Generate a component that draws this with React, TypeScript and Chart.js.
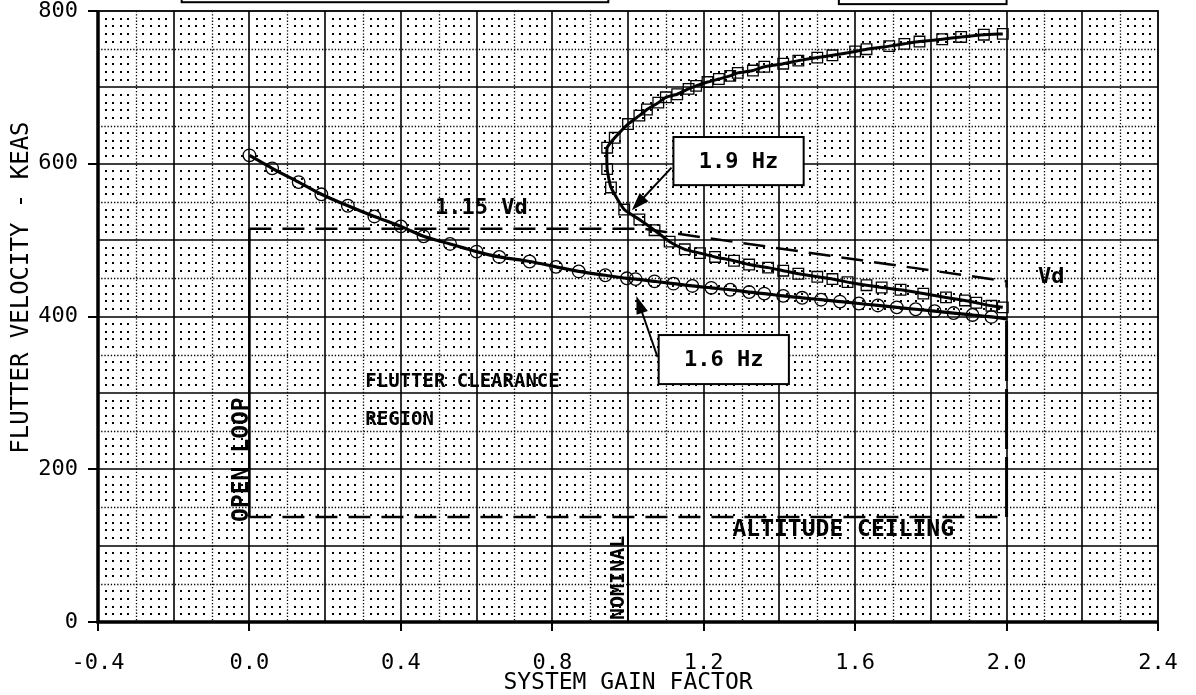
import React, { useEffect, useRef } from 'react';
import { Chart, registerables } from 'chart.js';

Chart.register(...registerables);

const FONT = "'DejaVu Sans Mono', 'Liberation Mono', monospace";

// ---- data ----
const X_TICKS = [-0.4, 0.0, 0.4, 0.8, 1.2, 1.6, 2.0, 2.4];
const Y_TICKS = [0, 200, 400, 600, 800];

// 1.6 Hz mode (circles)
const HZ16_X = [0, 0.06, 0.13, 0.19, 0.26, 0.33, 0.40, 0.46, 0.53, 0.60, 0.66, 0.74, 0.81, 0.87, 0.94, 0.997, 1.02, 1.07, 1.12, 1.17, 1.22, 1.27, 1.32, 1.36, 1.41, 1.46, 1.51, 1.56, 1.61, 1.66, 1.71, 1.76, 1.81, 1.86, 1.91, 1.96, 2.0];
const HZ16_Y = [611, 594, 576, 560, 545, 531, 518, 505, 495, 485, 478, 472, 465, 459, 454, 450, 449, 446, 443, 440, 437.5, 435, 432, 430, 427, 424.5, 422, 419.5, 417, 414.5, 412, 409.5, 407, 404.5, 402, 399.5, 397];

// 1.9 Hz mode (squares)
const HZ19_X = [1.99, 1.96, 1.92, 1.89, 1.84, 1.78, 1.72, 1.67, 1.63, 1.58, 1.54, 1.50, 1.45, 1.41, 1.37, 1.32, 1.28, 1.23, 1.19, 1.15, 1.11, 1.07, 1.03, 0.99, 0.955, 0.945, 0.945, 0.965, 1.00, 1.03, 1.05, 1.08, 1.10, 1.13, 1.16, 1.18, 1.21, 1.24, 1.27, 1.29, 1.33, 1.36, 1.41, 1.45, 1.50, 1.54, 1.60, 1.63, 1.69, 1.73, 1.77, 1.83, 1.88, 1.94, 1.99];
const HZ19_Y = [412, 414, 418, 421, 425, 430, 435, 438, 441, 445, 449, 452, 456, 460, 464, 468, 473, 478, 483, 488, 498, 513, 527, 540, 569, 593, 621, 634, 652, 663, 671, 680, 687, 691, 698, 702, 707, 711, 715, 719, 722, 727, 731, 735, 739, 742, 747, 750, 754, 757, 760, 763, 766, 769, 770];

// 1.15 Vd / Vd boundary
const VD_X = [0, 1.04, 2.0, 2.0];
const VD_Y = [515, 515, 446, 438];
// altitude ceiling
const CEIL_X = [0, 2.0];
const CEIL_Y = [137.5, 137.5];
// open loop boundary
const OPEN_X = [0, 0];
const OPEN_Y = [137.5, 515];
// nominal gain marker
const NOM_X = [1.0, 1.0];
const NOM_Y = [0, 137.5];
// max gain boundary
const MAXG_X = [2.0, 2.0];
const MAXG_Y = [137.5, 397];

const zip = (xs: number[], ys: number[]) => xs.map((x, i) => ({ x, y: ys[i] }));

// ---- annotations (data coordinates) ----
const TEXTS = [
  { text: '1.15 Vd', x: 0.49, y: 542, size: 22, rot: false },
  { text: 'Vd', x: 2.083, y: 451, size: 22, rot: false },
  { text: 'FLUTTER CLEARANCE', x: 0.306, y: 314, size: 19, rot: false },
  { text: 'REGION', x: 0.306, y: 264, size: 19, rot: false },
  { text: 'ALTITUDE CEILING', x: 1.276, y: 120, size: 23, rot: false },
  { text: 'NOMINAL', x: 0.975, y: 2.6, size: 20, rot: true },
  { text: 'OPEN LOOP', x: -0.02, y: 131, size: 23, rot: true },
];
const BOXES = [
  { text: '1.9 Hz', x0: 1.12, x1: 1.464, y0: 572, y1: 635, ax0: 1.115, ay0: 595, ax1: 1.01, ay1: 539 },
  { text: '1.6 Hz', x0: 1.081, x1: 1.425, y0: 311.5, y1: 375.7, ax0: 1.078, ay0: 347, ax1: 1.022, ay1: 427 },
];
const CUT_BOXES = [
  { x0: -0.179, x1: 0.948, y0: 811.5, y1: 860 },
  { x0: 1.557, x1: 2.0, y0: 809, y1: 860 },
];

const gridPlugin = {
  id: 'paperGrid',
  beforeDatasetsDraw(chart: any) {
    const { ctx, chartArea: a, scales } = chart;
    const xs = scales.x, ys = scales.y;
    ctx.save();
    ctx.fillStyle = '#000';
    // dots
    for (let i = 0; i <= 140; i++) {
      if (i % 5 === 0) continue;
      const px = xs.getPixelForValue(-0.4 + i * 0.02);
      for (let j = 0; j <= 80; j++) {
        if (j % 5 === 0) continue;
        const py = ys.getPixelForValue(j * 10);
        ctx.fillRect(Math.round(px) - 1, Math.round(py) - 1, 2, 2);
      }
    }
    // dotted half lines
    ctx.strokeStyle = '#000';
    ctx.lineWidth = 1.3;
    ctx.setLineDash([1.3, 1.9]);
    ctx.beginPath();
    for (let i = 1; i < 28; i += 2) {
      const px = Math.round(xs.getPixelForValue(-0.4 + i * 0.1)) + 0.5;
      ctx.moveTo(px, a.top);
      ctx.lineTo(px, a.bottom);
    }
    for (let j = 1; j < 16; j += 2) {
      const py = Math.round(ys.getPixelForValue(j * 50)) + 0.5;
      ctx.moveTo(a.left, py);
      ctx.lineTo(a.right, py);
    }
    ctx.stroke();
    // major lines
    ctx.setLineDash([]);
    ctx.lineWidth = 1.6;
    ctx.beginPath();
    for (let i = 1; i < 14; i++) {
      const px = Math.round(xs.getPixelForValue(-0.4 + i * 0.2));
      ctx.moveTo(px, a.top);
      ctx.lineTo(px, a.bottom);
    }
    for (let j = 1; j < 8; j++) {
      const py = Math.round(ys.getPixelForValue(j * 100));
      ctx.moveTo(a.left, py);
      ctx.lineTo(a.right, py);
    }
    ctx.stroke();
    // frame
    ctx.lineWidth = 1.8;
    ctx.strokeRect(a.left, a.top, a.right - a.left, a.bottom - a.top);
    ctx.lineWidth = 3.5;
    ctx.beginPath();
    ctx.moveTo(a.left, a.top);
    ctx.lineTo(a.left, a.bottom);
    ctx.lineTo(a.right, a.bottom);
    ctx.stroke();
    ctx.restore();
  },
};

function arrow(ctx: CanvasRenderingContext2D, x0: number, y0: number, x1: number, y1: number) {
  const ang = Math.atan2(y1 - y0, x1 - x0);
  const L = 18, W = 6;
  ctx.beginPath();
  ctx.moveTo(x0, y0);
  ctx.lineTo(x1 - Math.cos(ang) * L * 0.8, y1 - Math.sin(ang) * L * 0.8);
  ctx.stroke();
  ctx.beginPath();
  ctx.moveTo(x1, y1);
  ctx.lineTo(x1 - Math.cos(ang) * L - Math.sin(ang) * W, y1 - Math.sin(ang) * L + Math.cos(ang) * W);
  ctx.lineTo(x1 - Math.cos(ang) * L + Math.sin(ang) * W, y1 - Math.sin(ang) * L - Math.cos(ang) * W);
  ctx.closePath();
  ctx.fill();
}

const annotationPlugin = {
  id: 'notes',
  afterDatasetsDraw(chart: any) {
    const { ctx, scales } = chart;
    const xs = scales.x, ys = scales.y;
    ctx.save();
    ctx.fillStyle = '#000';
    ctx.strokeStyle = '#000';
    for (const t of TEXTS) {
      ctx.font = `bold ${t.size}px ${FONT}`;
      ctx.textBaseline = 'middle';
      ctx.textAlign = 'left';
      const px = xs.getPixelForValue(t.x), py = ys.getPixelForValue(t.y);
      if (t.rot) {
        ctx.save();
        ctx.translate(px, py);
        ctx.rotate(-Math.PI / 2);
        ctx.fillText(t.text, 0, 0);
        ctx.restore();
      } else {
        ctx.fillText(t.text, px, py);
      }
    }
    for (const b of BOXES) {
      const l = xs.getPixelForValue(b.x0), r = xs.getPixelForValue(b.x1);
      const tp = ys.getPixelForValue(b.y1), bt = ys.getPixelForValue(b.y0);
      ctx.lineWidth = 2;
      ctx.fillStyle = '#fff';
      ctx.fillRect(l, tp, r - l, bt - tp);
      ctx.strokeRect(l, tp, r - l, bt - tp);
      ctx.fillStyle = '#000';
      ctx.font = `bold 22px ${FONT}`;
      ctx.textAlign = 'center';
      ctx.textBaseline = 'middle';
      ctx.fillText(b.text, (l + r) / 2, (tp + bt) / 2 + 1);
      ctx.lineWidth = 2;
      arrow(ctx, xs.getPixelForValue(b.ax0), ys.getPixelForValue(b.ay0), xs.getPixelForValue(b.ax1), ys.getPixelForValue(b.ay1));
    }
    ctx.lineWidth = 2;
    for (const b of CUT_BOXES) {
      const l = xs.getPixelForValue(b.x0), r = xs.getPixelForValue(b.x1);
      const tp = ys.getPixelForValue(b.y1), bt = ys.getPixelForValue(b.y0);
      ctx.strokeRect(l, tp, r - l, bt - tp);
    }
    ctx.restore();
  },
};

export default function App() {
  const ref = useRef<HTMLCanvasElement | null>(null);
  useEffect(() => {
    if (!ref.current) return;
    const line = (xs: number[], ys: number[], extra: any) => ({
      data: zip(xs, ys),
      showLine: true,
      borderColor: '#000',
      backgroundColor: '#000',
      pointRadius: 0,
      fill: false,
      ...extra,
    });
    const chart = new Chart(ref.current, {
      type: 'scatter',
      data: {
        datasets: [
          line(VD_X, VD_Y, { borderWidth: 2.5, borderDash: [22, 11] }),
          line(CEIL_X, CEIL_Y, { borderWidth: 2.5, borderDash: [22, 11] }),
          line(OPEN_X, OPEN_Y, { borderWidth: 2.5 }),
          line(NOM_X, NOM_Y, { borderWidth: 2 }),
          line(MAXG_X, MAXG_Y, { borderWidth: 3, borderDash: [60, 8] }),
          line(HZ16_X, HZ16_Y, {
            borderWidth: 3.2,
            cubicInterpolationMode: 'monotone',
            pointStyle: 'circle',
            pointRadius: (c: any) => (c.dataIndex === HZ16_X.length - 1 ? 0 : 6.3),
            pointBorderWidth: 1.3,
            pointBorderColor: '#000',
            pointBackgroundColor: 'rgba(0,0,0,0)',
          }),
          line(HZ19_X, HZ19_Y, {
            borderWidth: 3,
            tension: 0.15,
            pointStyle: 'rect',
            pointRadius: 7.5,
            pointBorderWidth: 1.3,
            pointBorderColor: '#000',
            pointBackgroundColor: 'rgba(0,0,0,0)',
          }),
        ],
      },
      options: {
        responsive: false,
        animation: false,
        devicePixelRatio: 1,
        layout: { padding: { top: 11, right: 38, left: 0, bottom: 0 } },
        plugins: { legend: { display: false }, tooltip: { enabled: false } },
        scales: {
          x: {
            type: 'linear',
            min: -0.4,
            max: 2.4,
            afterBuildTicks: (s: any) => { s.ticks = X_TICKS.map((v) => ({ value: v })); },
            afterFit: (s: any) => { s.height = 73; s.paddingLeft = 0; s.paddingRight = 0; },
            border: { display: false },
            grid: { drawOnChartArea: false, drawTicks: true, tickLength: 9, color: '#000', lineWidth: 2 },
            ticks: {
              color: '#000',
              font: { family: FONT, size: 22 },
              padding: 19,
              maxRotation: 0,
              autoSkip: false,
              callback: (v: any) => Number(v).toFixed(1),
            },
            title: {
              display: true,
              text: 'SYSTEM GAIN FACTOR',
              color: '#000',
              font: { family: FONT, size: 23, lineHeight: 1 },
              padding: { top: 0, bottom: 0 },
            },
          },
          y: {
            type: 'linear',
            min: 0,
            max: 800,
            afterBuildTicks: (s: any) => { s.ticks = Y_TICKS.map((v) => ({ value: v })); },
            afterFit: (s: any) => { s.width = 98; s.paddingTop = 0; s.paddingBottom = 0; },
            border: { display: false },
            grid: { drawOnChartArea: false, drawTicks: true, tickLength: 10, color: '#000', lineWidth: 2 },
            ticks: {
              color: '#000',
              font: { family: FONT, size: 22 },
              padding: 10,
              autoSkip: false,
              callback: (v: any) => String(v),
            },
            title: {
              display: true,
              text: '    FLUTTER VELOCITY - KEAS',
              color: '#000',
              font: { family: FONT, size: 24, lineHeight: 1 },
              padding: { top: 10, bottom: 0 },
            },
          },
        },
      },
      plugins: [gridPlugin, annotationPlugin],
    } as any);
    return () => chart.destroy();
  }, []);
  return (
    <div style={{ position: 'absolute', left: 0, top: 0, width: 1196, height: 695, background: '#fff' }}>
      <canvas ref={ref} width={1196} height={695} style={{ display: 'block' }} />
    </div>
  );
}
